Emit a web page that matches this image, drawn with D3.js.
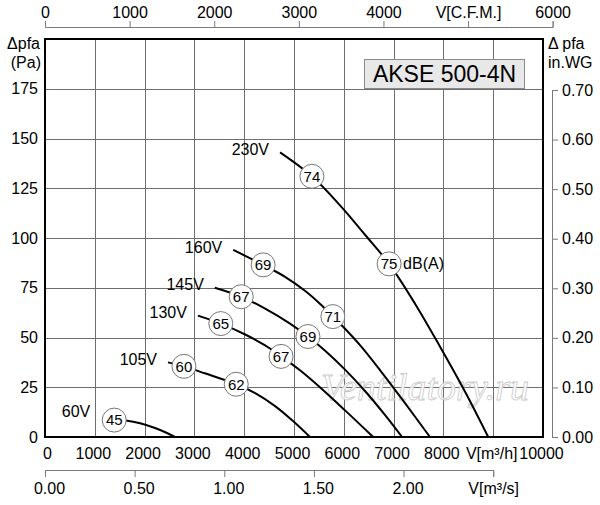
<!DOCTYPE html>
<html>
<head>
<meta charset="utf-8">
<script src="https://cdn.jsdelivr.net/npm/d3@7"></script>
<style>
body { margin: 0; background: #fff; }
svg { font-family: "Liberation Sans", Arial, sans-serif; }
</style>
</head>
<body>
<svg id="chart" width="600" height="505"></svg>
<script>
// fan curves for AKSE 500-4N, one line per supply voltage

var voltages = ["230V", "160V", "145V", "130V", "105V", "60V"];

// [m3/h, Pa]
var curve230 = [[4720,143],[5360,131],[5920,116.5],[6430,101.5],[6910,87],[7430,67],[7930,45.5],[8430,23],[8900,0]];
var curve160 = [[3780,94],[4380,86.5],[4820,80.5],[5220,73.5],[5520,67],[5780,60.5],[6020,54.5],[6330,46],[6730,33.5],[7230,17],[7730,0]];
var curve145 = [[3410,75],[3940,70.5],[4420,64.5],[4920,57],[5280,50.5],[5620,43.5],[6020,34],[6430,23],[6830,11],[7170,0]];
var curve130 = [[3070,61],[3530,57],[4020,51.5],[4420,46],[4740,40.5],[5120,33.5],[5520,25],[6020,13.5],[6590,0]];
var curve105 = [[2470,37.5],[2790,35.5],[3210,32],[3840,26.5],[4220,22],[4620,15.5],[4980,8],[5320,0]];
var curve60 = [[1390,8.5],[1650,8.2],[1910,6.9],[2210,4.5],[2450,2],[2610,0]];

// [m3/h, Pa, dB(A)]
var db230 = [[5360,131,74],[6910,87,75]];
var db160 = [[4380,86.5,69],[5780,60.5,71]];
var db145 = [[3940,70.5,67],[5280,50.5,69]];
var db130 = [[3530,57,65],[4740,40.5,67]];
var db105 = [[2790,35.5,60],[3840,26.5,62]];
var db60 = [[1390,8.5,45]];

var paTicks = [0,25,50,75,100,125,150,175];
var inwgTicks = [0,0.1,0.2,0.3,0.4,0.5,0.6,0.7];
var m3hTicks = [0,1000,2000,3000,4000,5000,6000,7000,8000,9000,10000];
var cfmTicks = [0,1000,2000,3000,4000,5000,6000];
var m3sTicks = [0,0.5,1,1.5,2,2.5];

var curves = [curve230, curve160, curve145, curve130, curve105, curve60];
var dbMarks = [db230, db160, db145, db130, db105, db60];

var svg = d3.select("#chart");

var x = d3.scaleLinear().domain([0, 10000]).range([45, 543]);
var y = d3.scaleLinear().domain([0, 200]).range([437, 39]);
var xCfm = d3.scaleLinear().domain([0, 6000]).range([45, x(6000 * 1.699)]);
var xM3s = d3.scaleLinear().domain([0, 2.5]).range([45, x(2.5 * 3600)]);
var yIn = d3.scaleLinear().domain([0, 0.7]).range([437, y(0.7 * 249.1)]);

// grid
var grid = svg.append("g").attr("stroke", "#6e6e6e").attr("stroke-width", 1);
grid.selectAll(".v").data(m3hTicks.slice(1, -1)).enter().append("line")
    .attr("x1", function(d) { return Math.round(x(d)) + 0.5; })
    .attr("x2", function(d) { return Math.round(x(d)) + 0.5; })
    .attr("y1", y(200)).attr("y2", y(0));
grid.selectAll(".h").data(paTicks.slice(1)).enter().append("line")
    .attr("y1", function(d) { return Math.round(y(d)) + 0.5; })
    .attr("y2", function(d) { return Math.round(y(d)) + 0.5; })
    .attr("x1", x(0)).attr("x2", x(10000));

// watermark
svg.append("text")
    .attr("x", 425).attr("y", 400)
    .attr("text-anchor", "middle")
    .style("font-family", "'Liberation Serif', 'DejaVu Serif', serif")
    .style("font-style", "italic")
    .style("font-size", "38px")
    .attr("fill", "#fff").attr("fill-opacity", 0.85)
    .attr("stroke", "#c8c8c8").attr("stroke-width", 0.8)
    .text("Ventilatory.ru");

// frame
svg.append("rect")
    .attr("x", x(0)).attr("y", y(200))
    .attr("width", x(10000) - x(0)).attr("height", y(0) - y(200))
    .attr("fill", "none").attr("stroke", "#000").attr("stroke-width", 2);

function styleAxis(g) {
    g.selectAll("path, line").attr("stroke", "#7a7a7a");
    g.selectAll("text").attr("fill", "#000").style("font-size", "16px").style("font-family", null);
}

// top axis, C.F.M.
var topAxis = svg.append("g").attr("transform", "translate(0,27)")
    .call(d3.axisTop(xCfm).tickValues(cfmTicks).tickSize(6)
        .tickFormat(function(d) { return d === 5000 ? "V[C.F.M.]" : d; }));
topAxis.call(styleAxis);
topAxis.selectAll("text").attr("y", -15).attr("dy", "0.35em");

// bottom axis, m3/h
var botAxis = svg.append("g").attr("transform", "translate(0,437)")
    .call(d3.axisBottom(x).tickValues(m3hTicks).tickSize(0)
        .tickFormat(function(d) { return d === 9000 ? "V[m\u00b3/h]" : d; }));
botAxis.call(styleAxis);
botAxis.select(".domain").remove();
botAxis.selectAll("text").attr("y", 16).attr("dy", "0.35em").attr("x", function(d) { return d === 0 ? 2 : -2; });

// bottom axis, m3/s
var sAxis = svg.append("g").attr("transform", "translate(0,470)")
    .call(d3.axisBottom(xM3s).tickValues(m3sTicks).tickSize(7)
        .tickFormat(function(d) { return d === 2.5 ? "V[m\u00b3/s]" : d3.format(".2f")(d); }));
sAxis.call(styleAxis);
sAxis.selectAll("text").attr("y", 18).attr("dy", "0.35em").attr("x", function(d) { return d === 2.5 ? 0 : 4; });

// left axis, Pa
var leftAxis = svg.append("g").attr("transform", "translate(45,0)")
    .call(d3.axisLeft(y).tickValues(paTicks).tickSize(0));
leftAxis.call(styleAxis);
leftAxis.select(".domain").remove();
leftAxis.selectAll("text").attr("x", -7);

// right axis, in.WG
var rightAxis = svg.append("g").attr("transform", "translate(552,0)")
    .call(d3.axisRight(yIn).tickValues(inwgTicks).tickSize(6).tickFormat(d3.format(".2f")));
rightAxis.call(styleAxis);
rightAxis.selectAll("text").attr("x", 10);

// axis titles
var titles = svg.append("g").style("font-size", "16px").attr("fill", "#000");
titles.append("text").attr("x", 40).attr("y", 43).attr("dy", "0.35em").attr("text-anchor", "end").text("\u0394pfa");
titles.append("text").attr("x", 41).attr("y", 62).attr("dy", "0.35em").attr("text-anchor", "end").text("(Pa)");
titles.append("text").attr("x", 548).attr("y", 43).attr("dy", "0.35em").text("\u0394 pfa");
titles.append("text").attr("x", 548).attr("y", 62).attr("dy", "0.35em").text("in.WG");

// model box
svg.append("rect").attr("x", 364.5).attr("y", 59.5).attr("width", 160).attr("height", 29)
    .attr("fill", "#e8e8e8").attr("stroke", "#8a8a8a").attr("stroke-width", 1);
svg.append("text").attr("x", 444.5).attr("y", 74).attr("dy", "0.36em")
    .attr("text-anchor", "middle").style("font-size", "23px").text("AKSE 500-4N");

// curves
var line = d3.line()
    .x(function(d) { return x(d[0]); })
    .y(function(d) { return y(d[1]); })
    .curve(d3.curveCatmullRom.alpha(0.5));

svg.append("g").selectAll("path").data(curves).enter().append("path")
    .attr("d", line)
    .attr("fill", "none").attr("stroke", "#000").attr("stroke-width", 2);

// voltage labels, left of each curve start
svg.append("g").style("font-size", "16px").selectAll("text").data(curves).enter().append("text")
    .attr("x", function(d, i) { return x(d[0][0]) - (i === 5 ? 24 : 11); })
    .attr("y", function(d, i) { return y(d[0][1]) - (i === 5 ? 9 : 3); })
    .attr("dy", "0.35em")
    .attr("text-anchor", "end")
    .text(function(d, i) { return voltages[i]; });

// dB(A) markers
var marks = svg.append("g").selectAll("g").data(d3.merge(dbMarks)).enter().append("g")
    .attr("transform", function(d) { return "translate(" + x(d[0]) + "," + y(d[1]) + ")"; });
marks.append("circle").attr("r", 12)
    .attr("fill", "#fff").attr("stroke", "#666").attr("stroke-width", 0.9);
marks.append("text").attr("text-anchor", "middle").attr("dy", "0.36em")
    .style("font-size", "15px").text(function(d) { return d[2]; });

svg.append("text").attr("x", x(db230[1][0]) + 14).attr("y", y(db230[1][1]))
    .attr("dy", "0.35em").style("font-size", "16px").text("dB(A)");
</script>
</body>
</html>
